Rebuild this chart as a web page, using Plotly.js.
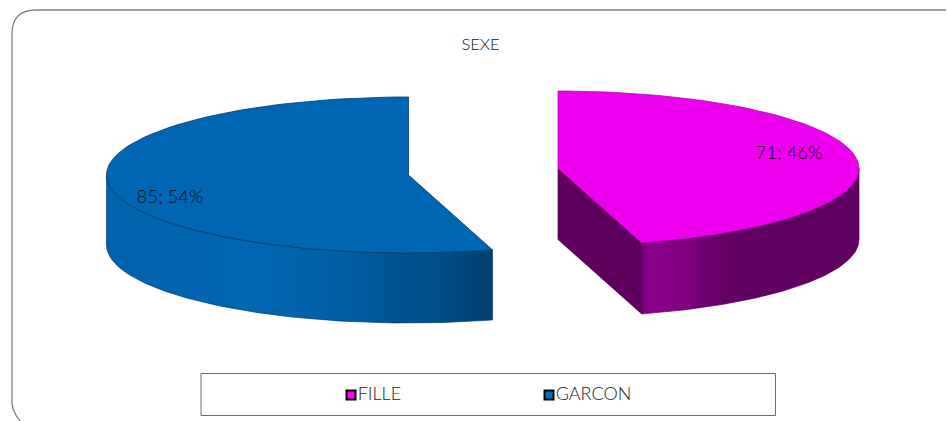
<!DOCTYPE html>
<html><head><meta charset="utf-8">
<script src="https://cdn.plot.ly/plotly-3.0.1.min.js"></script>
<style>html,body{margin:0;padding:0;background:#fff}#c{width:947px;height:421px}</style>
</head><body><div id="c"></div>
<script>
const categories = ['FILLE', 'GARCON'];
const values = [71, 85];
const chartTitle = 'SEXE';

const FONT = 'Lato, "Open Sans", sans-serif';
const total = values.reduce((a, b) => a + b, 0);
const sweep = values.map(v => v / total * 360);
const labels = values.map(v => v + '; ' + Math.round(v / total * 100) + '%');

// exploded 3D pie geometry
const geo = [
  {cx: 558, cy: 168.5, rx: 301, ry: 77.5, depth: 71, start: 0},
  {cx: 408.5, cy: 175, rx: 302, ry: 78, depth: 70, start: sweep[0]}
];
const pt = (g, a, dy = 0) => {
  const r = a * Math.PI / 180;
  return [g.cx + g.rx * Math.sin(r), g.cy - g.ry * Math.cos(r) + dy];
};
const arc = (g, a0, a1, dy = 0) => {
  const out = [], n = 90;
  for (let i = 0; i <= n; i++) out.push(pt(g, a0 + (a1 - a0) * i / n, dy));
  return out;
};
const poly = (pts, extra) => Object.assign({
  x: pts.map(p => p[0]), y: pts.map(p => p[1]),
  mode: 'lines', fill: 'toself', showlegend: false, hoverinfo: 'skip'
}, extra);

const traces = [];
// FILLE
{
  const g = geo[0], a0 = g.start, a1 = a0 + sweep[0];
  const [ax, ay] = [g.cx, g.cy];
  const e = pt(g, a1);
  traces.push(poly([[ax, ay], e, [e[0], e[1] + g.depth], [ax, ay + g.depth], [ax, ay]],
    {fillcolor: '#5f005f', line: {color: '#4a004a', width: 0.7}}));
  const wallTop = arc(g, 90, a1), wallBot = arc(g, a1, 90, g.depth);
  traces.push(poly(wallTop.concat(wallBot, [wallTop[0]]), {
    line: {color: '#5a005a', width: 0.7},
    fillgradient: {type: 'horizontal', colorscale: [
      [0, '#7a007a'], [0.03, '#8b008b'], [0.2, '#800080'], [0.38, '#640064'], [1, '#600060']]}
  }));
  traces.push(poly([[ax, ay]].concat(arc(g, a0, a1), [[ax, ay]]),
    {fillcolor: '#ee00ee', line: {color: '#9a009a', width: 0.7}, name: categories[0]}));
}
// GARCON
{
  const g = geo[1], a0 = g.start, a1 = 360;
  const wallTop = arc(g, a0, 270), wallBot = arc(g, 270, a0, g.depth);
  traces.push(poly(wallTop.concat(wallBot, [wallTop[0]]), {
    line: {color: '#003f70', width: 0.7},
    fillgradient: {type: 'horizontal', colorscale: [
      [0, '#0062ac'], [0.4, '#0066b3'], [0.62, '#005da3'], [0.78, '#00528f'], [0.88, '#004c84'], [1, '#003f6e']]}
  }));
  traces.push(poly([[g.cx, g.cy]].concat(arc(g, a0, a1), [[g.cx, g.cy]]),
    {fillcolor: '#0066b3', line: {color: '#003a66', width: 0.8}, name: categories[1]}));
}
// value labels
traces.push({
  x: [789, 170], y: [154.5, 198.5], text: labels, mode: 'text', textposition: 'middle center',
  textfont: {family: FONT, size: 18.5, weight: 300, color: '#111111'}, showlegend: false, hoverinfo: 'skip'
});
// legend keys
traces.push({
  x: [351, 549], y: [395, 395], text: categories, mode: 'markers+text', textposition: 'middle right',
  marker: {symbol: 'square', size: 9, color: ['#ff00ff', '#0070c0'], line: {color: '#000', width: 2}},
  textfont: {family: FONT, size: 18, weight: 300, color: '#1a1a1a'}, showlegend: false, hoverinfo: 'skip'
});

const layout = {
  width: 947, height: 421, margin: {l: 0, r: 0, t: 0, b: 0},
  paper_bgcolor: '#fff', plot_bgcolor: '#fff', showlegend: false,
  xaxis: {range: [0, 947], visible: false, fixedrange: true},
  yaxis: {range: [421, 0], visible: false, fixedrange: true},
  title: {text: chartTitle, font: {family: FONT, size: 16.5, weight: 300, color: '#111111'},
          x: 480.5 / 947, xanchor: 'center', y: 1 - 44.5 / 421, yanchor: 'middle'},
  shapes: [
    {type: 'path', path: 'M 20,421 Q 12,411 12,402 L 12,34 Q 12,10 36,10 L 946,10',
     line: {color: '#7f7f7f', width: 1.3}, layer: 'below'},
    {type: 'rect', x0: 201, x1: 775.5, y0: 373.5, y1: 415.5, line: {color: '#6a6a6a', width: 1}, layer: 'below'}
  ]
};
Plotly.newPlot('c', traces, layout, {displayModeBar: false, staticPlot: true});
</script></body></html>
